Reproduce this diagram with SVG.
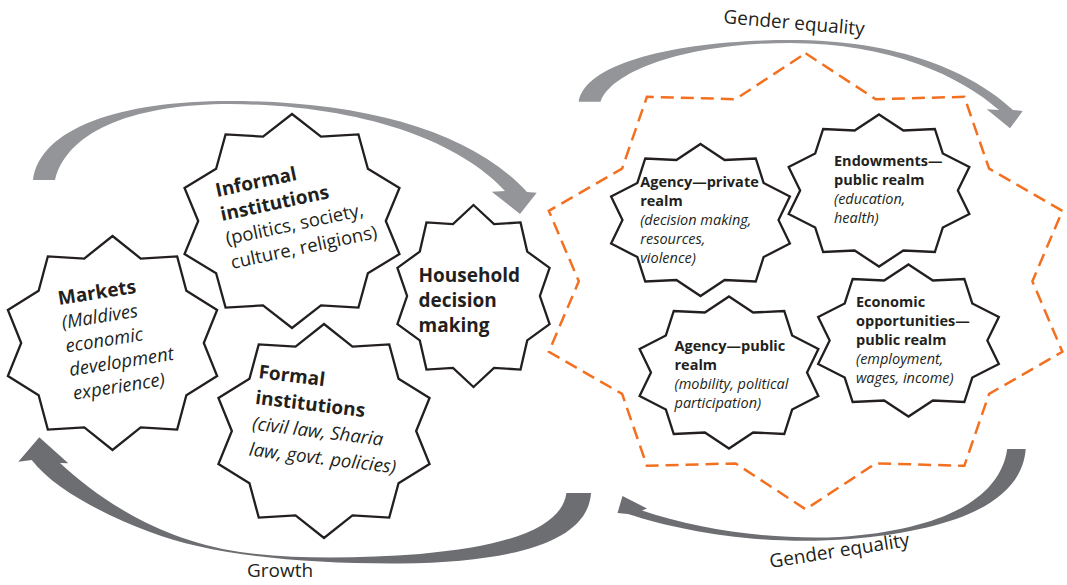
<svg xmlns="http://www.w3.org/2000/svg" xmlns:xlink="http://www.w3.org/1999/xlink" width="1067" height="585" viewBox="0 0 1067 585">
<style>
.t{font-family:"Open Sans","Liberation Sans",sans-serif;fill:#231f20}
.b{font-weight:700}
.i{font-style:italic}
.big{font-size:19px}
.desc{font-size:18.5px}
.sm{font-size:14.5px}
.lbl{font-size:19px}
.star{fill:#fff;stroke:#231f20;stroke-width:2.3;stroke-linejoin:miter;vector-effect:non-scaling-stroke}
.light{fill:#939598}
.dark{fill:#6d6e71}
.orange{fill:none;stroke:#f37021;stroke-width:2.5;stroke-dasharray:13 7}
</style>
<defs>
<path id="star" class="star" d="M0,-1 L0.2565,-0.7894 L0.5878,-0.809 L0.6715,-0.4879 L0.9511,-0.309 L0.83,0 L0.9511,0.309 L0.6715,0.4879 L0.5878,0.809 L0.2565,0.7894 L0,1 L-0.2565,0.7894 L-0.5878,0.809 L-0.6715,0.4879 L-0.9511,0.309 L-0.83,0 L-0.9511,-0.309 L-0.6715,-0.4879 L-0.5878,-0.809 L-0.2565,-0.7894 Z"/>
</defs>
<rect width="1067" height="585" fill="#fff"/>
<g id="connectors">
<path id="arrow-top-left" class="light" d="M33,180 C40,128 120,101 230,101 C360,101 470,130 527,192 L536.7,192.7 L520,214 L491.7,191.7 L505,191 C458,140 360,105 230,104 C140,104 68,128 55,180 Z"/>
<path id="arrow-top-right" class="light" d="M578.7,101.7 C585,62 680,40 790,40 C900,40 972,72 1013,110 L1022.7,111 L1010,128.3 L986.7,109.3 L999,110 C960,76 890,43 790,43 C690,43 612,70 600.5,101.7 Z"/>
<path id="arrow-growth" class="dark" d="M591,493 C588,540 520,562 400,563.5 C300,564 210,555 150,532 C105,515 55,490 31.7,460 L18.3,461.7 L39.3,437.3 L68.3,463.3 L60,463 C100,500 160,540 240,552 C300,560 360,558 420,554 C510,546 562,527 566.4,493 Z"/>
<path id="arrow-bottom-right" class="dark" d="M1025.7,449 C1022,500 960,530 850,539 C760,546 680,531 628,514 L617.5,513 L622.5,496 L647,508.5 L642,510.5 C700,530 770,540 840,537 C940,530 1000,500 1007.2,449 Z"/>
<polygon id="gender-equality-boundary" class="orange" points="805.6,53.3 875.7,99.2 964.3,96.8 989.1,168.7 1062.4,210.8 1032.4,281.3 1062.4,351.8 989.1,393.9 964.3,465.8 875.7,463.4 805.6,509.3 735.5,463.4 646.9,465.8 622.1,393.9 548.8,351.8 578.8,281.3 548.8,210.8 622.1,168.7 646.9,96.8 735.5,99.2"/>
<text class="t lbl" transform="rotate(5 723 23)" x="723" y="23">Gender equality</text>
<text class="t lbl" x="247" y="576.5">Growth</text>
<text class="t lbl" transform="rotate(-9 770.5 568)" x="770.5" y="568">Gender equality</text>
</g>
<g id="markets">
<use xlink:href="#star" href="#star" transform="translate(112.5,343) scale(110,107)"/>
<g transform="rotate(-9 59 305)">
<text class="t b big" x="59" y="305">Markets</text>
<text class="t i desc" x="59" y="329">(Maldives</text>
<text class="t i desc" x="59" y="353">economic</text>
<text class="t i desc" x="59" y="377">development</text>
<text class="t i desc" x="59" y="401">experience)</text>
</g>
</g>
<g id="informal">
<use xlink:href="#star" href="#star" transform="translate(292,221) scale(113,107)"/>
<g transform="rotate(-12 217 197)">
<text class="t b big" x="217" y="197">Informal</text>
<text class="t b big" x="217" y="221.5">institutions</text>
<text class="t desc" x="217" y="246">(politics, society,</text>
<text class="t desc" x="217" y="270.5">culture, religions)</text>
</g>
</g>
<g id="formal">
<use xlink:href="#star" href="#star" transform="translate(324,431) scale(111,107)"/>
<g transform="rotate(7 258 378)">
<text class="t b big" x="258" y="378">Formal</text>
<text class="t b big" x="258" y="404">institutions</text>
<text class="t i desc" x="258" y="430">(civil law, Sharia</text>
<text class="t i desc" x="258" y="456">law, govt. policies)</text>
</g>
</g>
<g id="household">
<use xlink:href="#star" href="#star" transform="translate(473.5,296) scale(80,91)"/>
<text class="t b big" x="418.5" y="281.7">Household</text>
<text class="t b big" x="418.5" y="306.7">decision</text>
<text class="t b big" x="418.5" y="331.7">making</text>
</g>
<g id="agency-private">
<use xlink:href="#star" href="#star" transform="translate(700.5,220) scale(94,76)"/>
<text class="t b sm" x="640.2" y="186.5">Agency—private</text>
<text class="t b sm" x="640.2" y="205.5">realm</text>
<text class="t i sm" x="640.2" y="224.5">(decision making,</text>
<text class="t i sm" x="640.2" y="243.5">resources,</text>
<text class="t i sm" x="640.2" y="262.5">violence)</text>
</g>
<g id="endowments">
<use xlink:href="#star" href="#star" transform="translate(879,190.5) scale(95,76)"/>
<text class="t b sm" x="834" y="166">Endowments—</text>
<text class="t b sm" x="834" y="185">public realm</text>
<text class="t i sm" x="834" y="204">(education,</text>
<text class="t i sm" x="834" y="223">health)</text>
</g>
<g id="agency-public">
<use xlink:href="#star" href="#star" transform="translate(729,372.5) scale(94,76)"/>
<text class="t b sm" x="674.5" y="350.5">Agency—public</text>
<text class="t b sm" x="674.5" y="369.5">realm</text>
<text class="t i sm" x="674.5" y="389">(mobility, political</text>
<text class="t i sm" x="674.5" y="408">participation)</text>
</g>
<g id="economic">
<use xlink:href="#star" href="#star" transform="translate(908.5,340.5) scale(95,76)"/>
<text class="t b sm" x="856" y="306.5">Economic</text>
<text class="t b sm" x="856" y="325.5">opportunities—</text>
<text class="t b sm" x="856" y="345">public realm</text>
<text class="t i sm" x="856" y="364">(employment,</text>
<text class="t i sm" x="856" y="383">wages, income)</text>
</g>
</svg>
